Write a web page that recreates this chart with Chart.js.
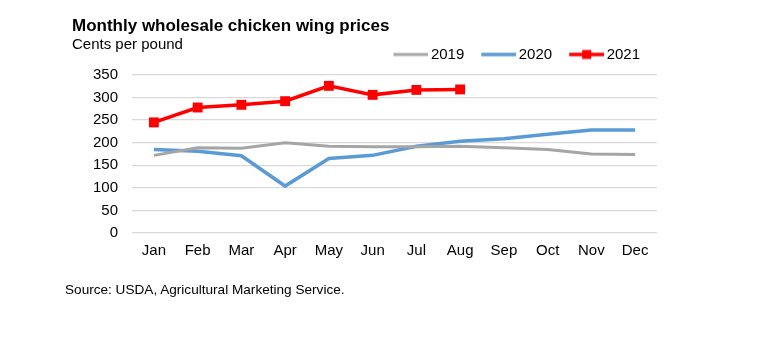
<!DOCTYPE html>
<html>

<head>
    <style>
        body { margin: 0; background: #fff; font-family: Arial, "Liberation Sans", sans-serif; }
        .wrap { position: relative; width: 775px; height: 341px; }
        .wrap canvas { position: absolute; left: 0; top: 0; }
        .txt { position: absolute; white-space: nowrap; color: #000; }
        #title { left: 72px; top: 17px; font-size: 17px; line-height: 17px; font-weight: bold; }
        #subtitle { left: 72px; top: 36px; font-size: 15px; line-height: 15px; }
        #source { left: 65px; top: 283px; font-size: 13.6px; line-height: 13px; }
    </style>
</head>
<script src="https://cdn.jsdelivr.net/npm/chart.js@4/dist/chart.umd.min.js"></script>

<body>
    <div class="wrap">
        <canvas id="myChart" width="775" height="341"></canvas>
        <div class="txt" id="title">Monthly wholesale chicken wing prices</div>
        <div class="txt" id="subtitle">Cents per pound</div>
        <div class="txt" id="source">Source: USDA, Agricultural Marketing Service.</div>
    </div>
</body>

<script>
    var months = ["Jan", "Feb", "Mar", "Apr", "May", "Jun", "Jul", "Aug", "Sep", "Oct", "Nov", "Dec"];
    var seriesNames = ["2019", "2020", "2021"];
    var prices2019 = [172, 189, 188, 200, 192, 191, 191, 192, 189, 185, 175, 174];
    var prices2020 = [185, 181, 171, 104, 165, 172, 192, 203, 209, 219, 228, 228];
    var prices2021 = [245, 278, 284, 292, 326, 306, 317, 318];
    var yTicks = [0, 50, 100, 150, 200, 250, 300, 350];

    var gray = "#a5a5a5";
    var blue = "#5b9bd5";
    var red = "#ff0000";

    // little line swatch for the legend, with a square for 2021
    function legendSample(color, lineW, marker) {
        var c = document.createElement("canvas");
        c.width = 40;
        c.height = 12;
        var g = c.getContext("2d");
        g.strokeStyle = color;
        g.lineWidth = lineW;
        g.beginPath();
        g.moveTo(5, 6);
        g.lineTo(40, 6);
        g.stroke();
        if (marker) {
            g.fillStyle = color;
            g.fillRect(18, 1.5, 9, 9);
        }
        return c;
    }

    var samples = [legendSample(gray, 3, false), legendSample(blue, 3.5, false), legendSample(red, 3.5, true)];

    // push the plot a few px below the legend
    var legendGap = {
        id: "legendGap",
        beforeInit: function (chart) {
            var origFit = chart.legend.fit;
            chart.legend.fit = function () {
                origFit.bind(chart.legend)();
                this.height += 3;
            };
        }
    };

    var ctx = document.getElementById("myChart").getContext("2d");
    var lineChart = new Chart(ctx, {
        type: "line",
        data: {
            labels: months,
            datasets: [{
                label: seriesNames[0],
                data: prices2019,
                borderColor: gray,
                backgroundColor: gray,
                borderWidth: 3,
                pointRadius: 0,
                tension: 0
            }, {
                label: seriesNames[1],
                data: prices2020,
                borderColor: blue,
                backgroundColor: blue,
                borderWidth: 3.5,
                pointRadius: 0,
                tension: 0
            }, {
                label: seriesNames[2],
                data: prices2021,
                borderColor: red,
                backgroundColor: red,
                borderWidth: 3.5,
                pointStyle: "rect",
                pointRadius: 7,
                pointBorderWidth: 0,
                tension: 0
            }]
        },
        options: {
            responsive: false,
            devicePixelRatio: 1,
            animation: false,
            layout: {
                padding: { left: 72, right: 118, top: 30, bottom: 72 }
            },
            plugins: {
                tooltip: { enabled: false },
                legend: {
                    position: "top",
                    align: "end",
                    labels: {
                        usePointStyle: true,
                        pointStyleWidth: 30,
                        padding: 17,
                        color: "#000",
                        font: { family: "Arial, 'Liberation Sans'", size: 15 },
                        generateLabels: function (chart) {
                            return chart.data.datasets.map(function (ds, i) {
                                return {
                                    text: ds.label,
                                    pointStyle: samples[i],
                                    fillStyle: ds.borderColor,
                                    strokeStyle: ds.borderColor,
                                    lineWidth: 0,
                                    fontColor: "#000",
                                    hidden: !chart.isDatasetVisible(i),
                                    datasetIndex: i
                                };
                            });
                        }
                    }
                }
            },
            scales: {
                x: {
                    offset: true,
                    grid: { display: false, drawTicks: false },
                    border: { display: false },
                    ticks: {
                        padding: 9,
                        color: "#000",
                        maxRotation: 0,
                        autoSkip: false,
                        font: { family: "Arial, 'Liberation Sans'", size: 15 }
                    }
                },
                y: {
                    min: 0,
                    max: 350,
                    afterFit: function (scale) { scale.width = 60; },
                    afterBuildTicks: function (scale) {
                        scale.ticks = yTicks.map(function (v) { return { value: v }; });
                    },
                    grid: { color: "#d9d9d9", lineWidth: 1.3, drawTicks: false },
                    border: { display: false },
                    ticks: {
                        padding: 14,
                        color: "#000",
                        font: { family: "Arial, 'Liberation Sans'", size: 15 }
                    }
                }
            }
        },
        plugins: [legendGap]
    });
</script>

</html>
